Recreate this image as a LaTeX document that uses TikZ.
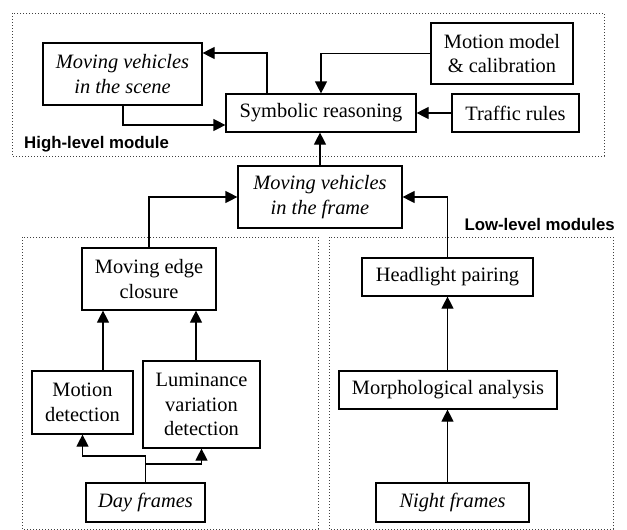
\documentclass[tikz,border=0pt]{standalone}
\usepackage{fontspec}
\setmainfont{Liberation Serif}
\newfontfamily\labfont{Liberation Sans}
\usetikzlibrary{arrows.meta}
\begin{document}
\begin{tikzpicture}[x=1pt,y=-1pt,
  box/.style={draw,line width=1.2pt,inner sep=0pt,align=center,
    font=\fontsize{20.4}{24.5}\selectfont},
  arr/.style={line width=1.2pt,-{Triangle[length=12pt,width=12pt]}},
  region/.style={draw=black!75,dotted,line width=1pt},
  lab/.style={font=\labfont\bfseries\fontsize{16.8}{20}\selectfont,inner sep=0pt}]
\useasboundingbox (0,0) rectangle (627,530);
% regions
\draw[region] (12,13) rectangle (604,156);
\draw[region] (22,237) rectangle (318,529);
\draw[region] (329,237) rectangle (613,529);
\node[lab,anchor=base west] (hl) at (24,148) {High-level module};
\node[lab,anchor=base east] (ll) at (615,230) {Low-level modules};
% nodes
\node[box,minimum width=159pt,minimum height=62pt] (scene) at (122.5,74) {\itshape Moving vehicles\\\itshape in the scene};
\node[box,minimum width=190pt,minimum height=38pt] (sym) at (321,113) {Symbolic reasoning};
\node[box,minimum width=142pt,minimum height=61pt] (mm) at (502,53.5) {Motion model\\\& calibration};
\node[box,minimum width=127pt,minimum height=38pt] (tr) at (515.5,113) {Traffic rules};
\node[box,minimum width=164pt,minimum height=62pt] (frame) at (320,197) {\itshape Moving vehicles\\\itshape in the frame};
\node[box,minimum width=134pt,minimum height=62pt] (edge) at (149,279) {Moving edge\\closure};
\node[box,minimum width=101pt,minimum height=63pt] (md) at (82.5,402.5) {Motion\\detection};
\node[box,minimum width=117pt,minimum height=87pt] (lum) at (201.5,404.5) {Luminance\\variation\\detection};
\node[box,minimum width=119pt,minimum height=39pt] (day) at (145.5,502.5) {\itshape Day frames};
\node[box,minimum width=171pt,minimum height=38pt] (head) at (447.5,277) {Headlight pairing};
\node[box,minimum width=218pt,minimum height=38pt] (morph) at (448,390) {Morphological analysis};
\node[box,minimum width=153pt,minimum height=39pt] (night) at (452.5,502.5) {\itshape Night frames};
% helper coordinates
\coordinate (c1) at (267,53);
\coordinate (c2) at (123,125);
\coordinate (c3) at (103,0);
\coordinate (c4) at (196,0);
\coordinate (c5) at (0,456);
\coordinate (c6) at (0,464);
% connectors
\draw[arr] (sym.north -| c1) |- (scene.east |- c1);
\draw[arr] (scene.south -| c2) |- (sym.west |- c2);
\draw[arr] (mm.west) -| (sym.north);
\draw[arr] (tr.west) -- (sym.east);
\draw[arr] (frame.north) -- (frame.north |- sym.south);
\draw[arr] (edge.north) |- (frame.west);
\draw[arr] (head.north) |- (frame.east);
\draw[arr] (md.north -| c3) -- (edge.south -| c3);
\draw[arr] (lum.north -| c4) -- (edge.south -| c4);
\draw[arr] (day.north) -- (day.north |- c5) -| (md.south);
\draw[arr] (day.north |- c6) -| (lum.south);
\draw[arr] (morph.north -| head.north) -- (head.south);
\draw[arr] (night.north -| head.north) -- (morph.south -| head.north);
\end{tikzpicture}
\end{document}
